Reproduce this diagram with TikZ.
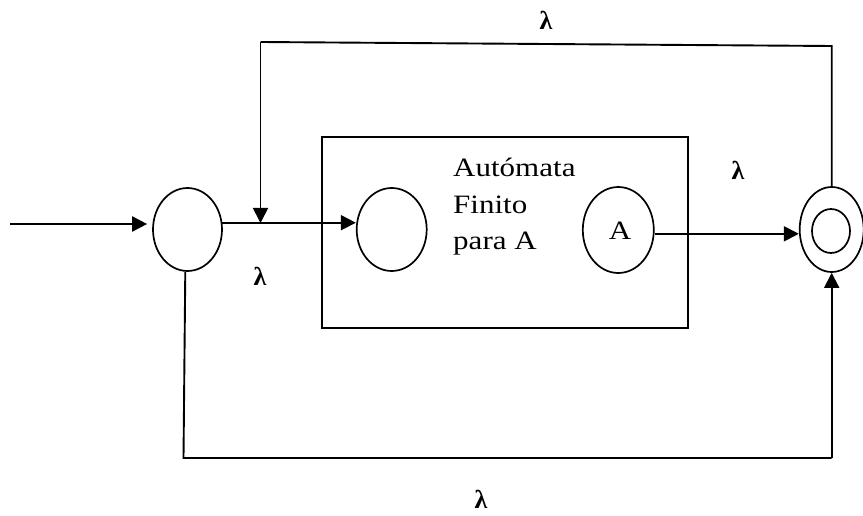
\documentclass[tikz,border=0pt]{standalone}
\usepackage{fontspec}
\setmainfont{Liberation Serif}
\usetikzlibrary{arrows.meta,shapes.geometric}
\tikzset{
  st/.style={draw, ellipse, line width=1.7pt, inner sep=0pt},
  ln/.style={line width=1.9pt},
  arr/.style={ln, -{Triangle[length=15pt,width=15pt]}},
  txt/.style={font=\fontsize{26.5}{30}\selectfont, inner sep=0pt, transform shape, xscale=1.17},
  lam/.style={font=\fontsize{26}{30}\selectfont\bfseries, inner sep=0pt}
}
\begin{document}
\begin{tikzpicture}[x=1pt,y=-1pt]
\useasboundingbox (0,0) rectangle (863,516);
% states
\node[st, minimum width=69pt, minimum height=83pt] (q0) at (187.5,229.5) {};
\node[st, minimum width=70pt, minimum height=83pt] (q1) at (391.7,229.5) {};
\node[st, minimum width=71pt, minimum height=86pt] (qA) at (618.3,230) {};
\node[txt] (tA) at (620,231) {A};
\node[st, minimum width=64pt, minimum height=85pt] (qf) at (831.7,229.5) {};
\node[st, minimum width=38pt, minimum height=44pt] (qfi) at (831,231) {};
% box
\node[draw, line width=1.7pt, minimum width=366pt, minimum height=190.7pt, inner sep=0pt] (box) at (504.7,232.4) {};
% text
\node[txt, anchor=base west] (t1) at (453,177) {Autómata};
\node[txt, anchor=base west] (t2) at (453,213.5) {Finito};
\node[txt, anchor=base west] (t3) at (453,250) {para A};
% coordinates
\coordinate (start) at (10,224);
\coordinate (j) at (260.5,223);
\coordinate (tl) at (260.5,42);
\coordinate (tr) at (831.7,46);
\coordinate (bl) at (183.5,458);
\coordinate (br) at (831.7,458);
% connectors
\draw[arr, shorten >=5pt] (start) -- (start -| q0.west);
\draw[arr] (q0.11) -- (q0.11 -| q1.west);
\draw[ln] (qf.north) -- (tr) -- (tl);
\draw[arr] (tl) -- (j);
\draw[arr] (qA.-6) -- (qA.-6 -| qf.west);
\draw[ln] (q0.267) -- (bl) -- (br);
\draw[arr] (br) -- (qf.south);
% labels
\node[lam] (l1) at (546,20) {λ};
\node[lam] (l2) at (738,170) {λ};
\node[lam] (l3) at (260,276) {λ};
\node[lam] (l4) at (481,499) {λ};
\end{tikzpicture}
\end{document}
